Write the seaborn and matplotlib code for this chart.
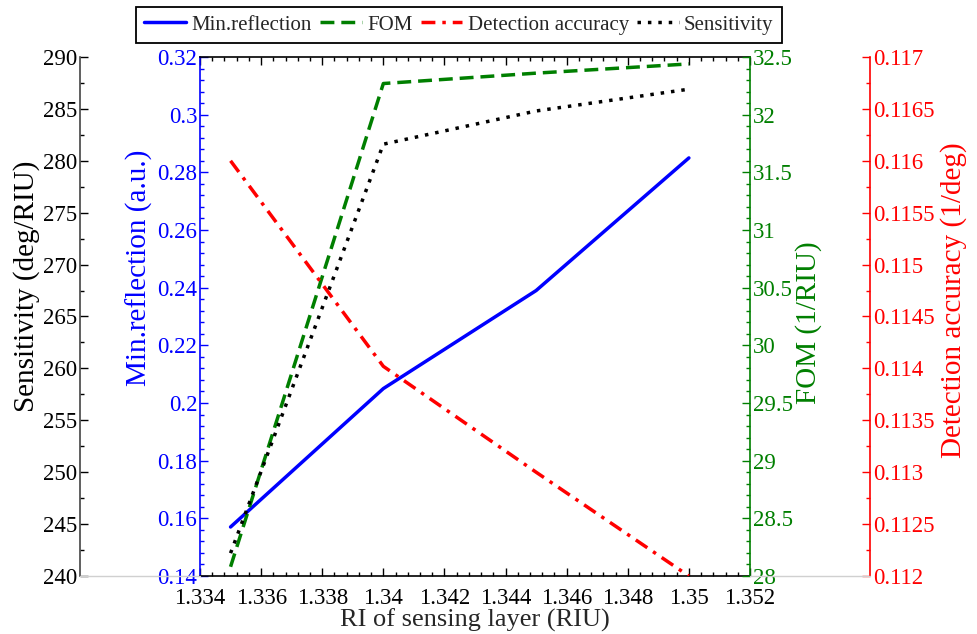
import matplotlib
matplotlib.use('Agg')
import matplotlib.pyplot as plt
import seaborn as sns
from matplotlib.ticker import MultipleLocator, AutoMinorLocator, FuncFormatter
from matplotlib.lines import Line2D

# ---- data ----
ri = [1.335, 1.34, 1.345, 1.35]
min_reflection = [0.157, 0.205, 0.239, 0.285]
fom = [28.08, 32.27, 32.36, 32.44]
detection_accuracy = [0.1160, 0.11402, 0.1130, 0.11200]
sensitivity = [242.2, 281.6, 284.8, 286.9]

sns.set_style('white')
plt.rcParams['font.family'] = ['Liberation Serif', 'DejaVu Serif']

W, H = 978, 634
fig = plt.figure(figsize=(W / 100, H / 100), dpi=100)
L, R, T, B = 200, 750, 57, 576
ax = fig.add_axes([L / W, 1 - B / H, (R - L) / W, (B - T) / H])
ax_fom = ax.twinx()
ax_det = ax.twinx()
ax_sen = ax.twinx()

TICK_FS = 16.5
YLAB_FS = 21
XLAB_FS = 19


def fmt(nd):
    return FuncFormatter(lambda v, p: (f'{v:.{nd}f}').rstrip('0').rstrip('.'))


blue, green, red = '#0000ff', '#007f00', '#ff0000'

sns.lineplot(x=ri, y=min_reflection, ax=ax, color=blue, linestyle='-', linewidth=2.5)
sns.lineplot(x=ri, y=fom, ax=ax_fom, color=green, linestyle=(0, (4, 2)), linewidth=2.5)
sns.lineplot(x=ri, y=detection_accuracy, ax=ax_det, color=red, linestyle=(0, (4, 2, 1, 2)), linewidth=2.5)
sns.lineplot(x=ri, y=sensitivity, ax=ax_sen, color='black', linestyle=(0, (1, 2)), linewidth=2.5)

# main axis (min reflection, left)
ax.set_xlim(1.334, 1.352)
ax.set_ylim(0.14, 0.32)
ax.xaxis.set_major_locator(MultipleLocator(0.002))
ax.xaxis.set_minor_locator(AutoMinorLocator(5))
ax.xaxis.set_major_formatter(fmt(3))
ax.yaxis.set_major_locator(MultipleLocator(0.02))
ax.yaxis.set_minor_locator(AutoMinorLocator(5))
ax.yaxis.set_major_formatter(fmt(2))
ax.tick_params(axis='x', which='both', direction='in', top=True, bottom=True, labelsize=TICK_FS,
               colors='black', pad=9)
ax.tick_params(axis='x', which='major', length=6, width=1)
ax.tick_params(axis='x', which='minor', length=3, width=1)
ax.tick_params(axis='y', which='both', direction='in', left=True, right=False, labelsize=TICK_FS,
               colors=blue, pad=2)
ax.tick_params(axis='y', which='major', length=6, width=1)
ax.tick_params(axis='y', which='minor', length=3, width=1)
ax.set_xlabel('RI of sensing layer (RIU)', fontsize=XLAB_FS, labelpad=-1)
ax.set_ylabel('Min.reflection (a.u.)', fontsize=YLAB_FS, color=blue, labelpad=3)
ax.yaxis.label.set_y(0.593)
for s in ['top', 'bottom']:
    ax.spines[s].set_color('black')
    ax.spines[s].set_linewidth(1.2)
ax.spines['left'].set_color(blue)
ax.spines['left'].set_linewidth(1.2)
ax.spines['right'].set_visible(False)

# FOM (right, at axis edge)
ax_fom.set_ylim(28, 32.5)
ax_fom.yaxis.set_major_locator(MultipleLocator(0.5))
ax_fom.yaxis.set_minor_locator(AutoMinorLocator(5))
ax_fom.yaxis.set_major_formatter(fmt(1))
ax_fom.tick_params(axis='y', which='both', direction='in', labelsize=TICK_FS, colors=green, pad=2)
ax_fom.tick_params(axis='y', which='major', length=6, width=1)
ax_fom.tick_params(axis='y', which='minor', length=3, width=1)
ax_fom.set_ylabel('FOM (1/RIU)', fontsize=YLAB_FS, color=green, labelpad=2)
ax_fom.yaxis.label.set_y(0.489)
ax_fom.spines['right'].set_color(green)
ax_fom.spines['right'].set_linewidth(1.2)
for s in ['left', 'top', 'bottom']:
    ax_fom.spines[s].set_visible(False)

# Detection accuracy (outer right)
ax_det.set_ylim(0.112, 0.117)
ax_det.spines['right'].set_position(('axes', (870 - L) / (R - L)))
ax_det.yaxis.set_major_locator(MultipleLocator(0.0005))
ax_det.yaxis.set_minor_locator(AutoMinorLocator(2))
ax_det.yaxis.set_major_formatter(fmt(4))
ax_det.tick_params(axis='y', which='both', direction='in', labelsize=TICK_FS, colors=red, pad=2)
ax_det.tick_params(axis='y', which='major', length=6, width=1)
ax_det.tick_params(axis='y', which='minor', length=3, width=1)
ax_det.set_ylabel('Detection accuracy (1/deg)', fontsize=YLAB_FS, color=red, labelpad=4)
ax_det.yaxis.label.set_y(0.532)
ax_det.spines['right'].set_color(red)
ax_det.spines['right'].set_linewidth(1.2)
for s in ['left', 'top', 'bottom']:
    ax_det.spines[s].set_visible(False)

# Sensitivity (outer left)
ax_sen.set_ylim(240, 290)
ax_sen.spines['left'].set_visible(True)
ax_sen.spines['left'].set_position(('axes', (80 - L) / (R - L)))
ax_sen.yaxis.set_ticks_position('left')
ax_sen.yaxis.set_label_position('left')
ax_sen.yaxis.set_major_locator(MultipleLocator(5))
ax_sen.yaxis.set_minor_locator(AutoMinorLocator(2))
ax_sen.tick_params(axis='y', which='both', direction='in', labelsize=TICK_FS, colors='black', pad=2)
ax_sen.tick_params(axis='y', which='major', length=6, width=1)
ax_sen.tick_params(axis='y', which='minor', length=3, width=1)
ax_sen.set_ylabel('Sensitivity (deg/RIU)', fontsize=YLAB_FS, color='black', labelpad=2)
ax_sen.yaxis.label.set_y(0.559)
ax_sen.spines['left'].set_color('#444444')
ax_sen.spines['left'].set_linewidth(1.2)
for s in ['right', 'top', 'bottom']:
    ax_sen.spines[s].set_visible(False)

# faint baseline extensions
fig.add_artist(Line2D([80 / W, L / W], [1 - B / H] * 2, color='#d0d0d0', lw=1))
fig.add_artist(Line2D([R / W, 870 / W], [1 - B / H] * 2, color='#d0d0d0', lw=1))

# legend
handles = [ax.get_lines()[0], ax_fom.get_lines()[0], ax_det.get_lines()[0], ax_sen.get_lines()[0]]
labels = ['Min.reflection', 'FOM', 'Detection accuracy', 'Sensitivity']
leg = fig.legend(handles, labels, loc='center', bbox_to_anchor=(459 / W, 1 - 25 / H), ncol=4,
                 frameon=True, fancybox=False, edgecolor='black', framealpha=1, fontsize=15,
                 handlelength=2.0, columnspacing=0.4, handletextpad=0.25, borderpad=0.4,
                 borderaxespad=0)
leg.get_frame().set_linewidth(1.3)

fig.savefig('out.png', dpi=100)
